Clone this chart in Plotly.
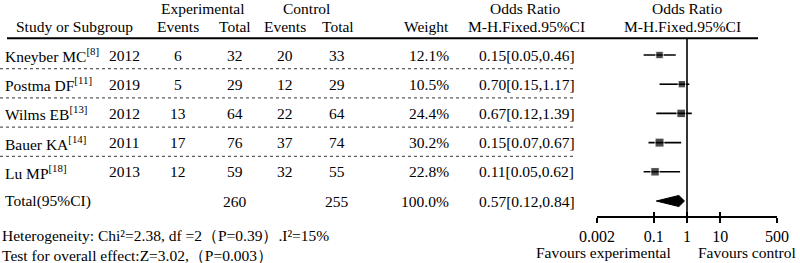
import math
import plotly.graph_objects as go

# ---------------- data ----------------
studies = ["Kneyber MC", "Postma DF", "Wilms EB", "Bauer KA", "Lu MP"]
refs = ["8", "11", "13", "14", "18"]
years = [2012, 2019, 2012, 2011, 2013]
exp_events = [6, 5, 13, 17, 12]
exp_total = [32, 29, 64, 76, 59]
ctrl_events = [20, 12, 22, 37, 32]
ctrl_total = [33, 29, 64, 74, 55]
weights = [12.1, 10.5, 24.4, 30.2, 22.8]
or_est = [0.15, 0.70, 0.67, 0.15, 0.11]
ci_lo = [0.05, 0.15, 0.12, 0.07, 0.05]
ci_hi = [0.46, 1.17, 1.39, 0.67, 0.62]

total_label = "Total(95%CI)"
total_exp = 260
total_ctrl = 255
total_weight = 100.0
total_or = 0.57
total_lo = 0.12
total_hi = 0.84

tick_vals = [0.002, 0.1, 1, 10, 500]
tick_text = ["0.002", "0.1", "1", "10", "500"]

heterogeneity = "Heterogeneity: Chi²=2.38, df =2（P=0.39）.I²=15%"
overall = "Test for overall effect:Z=3.02,（P=0.003）"

# ---------------- layout helpers ----------------
W, H = 800, 263
ROW0 = 55.0     # pixel y of first study row
ROWH = 29.2     # pixel height of a row
FONT = "Liberation Serif, Times New Roman, serif"
FS = 15.5


def row_of(py):
    return (py - ROW0) / ROWH


def px(x):
    return x / W


n = len(studies)
rows = list(range(n))
total_row = n

fig = go.Figure()

# CI lines
cx, cy = [], []
for i in rows:
    cx += [ci_lo[i], ci_hi[i], None]
    cy += [i, i, None]
fig.add_trace(go.Scatter(x=cx, y=cy, mode="lines", line=dict(color="black", width=1.6),
                         hoverinfo="skip", showlegend=False))
# squares
fig.add_trace(go.Scatter(x=or_est, y=rows, mode="markers",
                         marker=dict(symbol="square", color="black",
                                     size=[5 + math.sqrt(w) * 0.72 for w in weights]),
                         showlegend=False))
# diamond
dh = 0.19
fig.add_trace(go.Scatter(x=[total_lo, total_or, total_hi, total_or, total_lo],
                         y=[total_row, total_row - dh, total_row, total_row + dh, total_row],
                         mode="lines", fill="toself", fillcolor="black",
                         line=dict(color="black", width=1), showlegend=False))

axis_row = row_of(217)
header_row = row_of(38.3)

shapes = []
# thick header line
shapes.append(dict(type="line", xref="paper", yref="y", x0=px(7), x1=px(758),
                   y0=header_row, y1=header_row, line=dict(color="black", width=2)))
# dotted separators
for i in range(n - 1):
    yy = i + 0.47
    shapes.append(dict(type="line", xref="paper", yref="y", x0=0, x1=px(573),
                       y0=yy, y1=yy, line=dict(color="#333333", width=1, dash="dot")))
# line of no effect
shapes.append(dict(type="line", xref="x", yref="y", x0=1, x1=1,
                   y0=header_row, y1=axis_row, line=dict(color="black", width=1.6)))

ann = []


def txt(x, y, s, anchor="center", size=FS):
    ann.append(dict(x=px(x), y=y, xref="paper", yref="y", text=s, showarrow=False,
                    xanchor=anchor, yanchor="middle",
                    font=dict(family=FONT, size=size, color="black")))


# headers
h1 = row_of(8)
h2 = row_of(26)
txt(203, h1, "Experimental")
txt(306, h1, "Control")
txt(525, h1, "Odds Ratio")
txt(687, h1, "Odds Ratio")
txt(74, h2, "Study or Subgroup")
txt(178, h2, "Events")
txt(235, h2, "Total")
txt(285, h2, "Events")
txt(338, h2, "Total")
txt(451, h2, "Weight", "right")
txt(526, h2, "M-H.Fixed.95%CI")
txt(682, h2, "M-H.Fixed.95%CI")

for i in rows:
    txt(3, i, f"{studies[i]}<sup>[{refs[i]}]</sup>", "left")
    txt(124, i, str(years[i]))
    txt(178, i, str(exp_events[i]))
    txt(235, i, str(exp_total[i]))
    txt(285, i, str(ctrl_events[i]))
    txt(337, i, str(ctrl_total[i]))
    txt(451, i, f"{weights[i]:.1f}%", "right")
    txt(477, i, f"{or_est[i]:.2f}[{ci_lo[i]:.2f},{ci_hi[i]:.2f}]", "left")

txt(3, total_row, total_label, "left")
txt(235, total_row, str(total_exp))
txt(337, total_row, str(total_ctrl))
txt(451, total_row, f"{total_weight:.1f}%", "right")
txt(477, total_row, f"{total_or:.2f}[{total_lo:.2f},{total_hi:.2f}]", "left")

txt(0, row_of(235), heterogeneity, "left")
txt(0, row_of(255.5), overall, "left")
txt(603, row_of(252), "Favours experimental")
txt(747, row_of(252), "Favours control")

xr = [math.log10(0.002), math.log10(500)]
axis_pos = 1 - 217 / H

fig.update_layout(
    template="none",
    width=W, height=H,
    margin=dict(l=0, r=0, t=0, b=0, pad=0, autoexpand=False),
    paper_bgcolor="white", plot_bgcolor="white",
    showlegend=False,
    hovermode=False,
    shapes=shapes,
    annotations=ann,
    xaxis=dict(type="log", range=xr, domain=[px(597), px(777)], anchor="free",
               position=axis_pos, showline=True, linecolor="black", linewidth=2,
               ticks="outside", ticklen=5, tickwidth=2, tickcolor="black",
               tickvals=tick_vals, ticktext=tick_text, showgrid=False, zeroline=False,
               automargin=False,
               tickfont=dict(family=FONT, size=16, color="black")),
    xaxis3=dict(type="log", range=xr, domain=[px(597), px(777)], anchor="free",
                overlaying="x", position=axis_pos, showline=False,
                ticks="inside", ticklen=5, tickwidth=2, tickcolor="black",
                tickvals=tick_vals, showticklabels=False, showgrid=False, zeroline=False,
                automargin=False),
    yaxis=dict(range=[row_of(H), row_of(0)], domain=[0, 1], visible=False,
               showgrid=False, zeroline=False, automargin=False),
)
# dummy trace to show xaxis3
fig.add_trace(go.Scatter(x=[1], y=[None], xaxis="x3", yaxis="y", mode="markers",
                         showlegend=False, hoverinfo="skip"))

fig.write_html("out.html", config={"displayModeBar": False},
               post_script="document.body.style.margin='0px';document.body.style.padding='0px';")
